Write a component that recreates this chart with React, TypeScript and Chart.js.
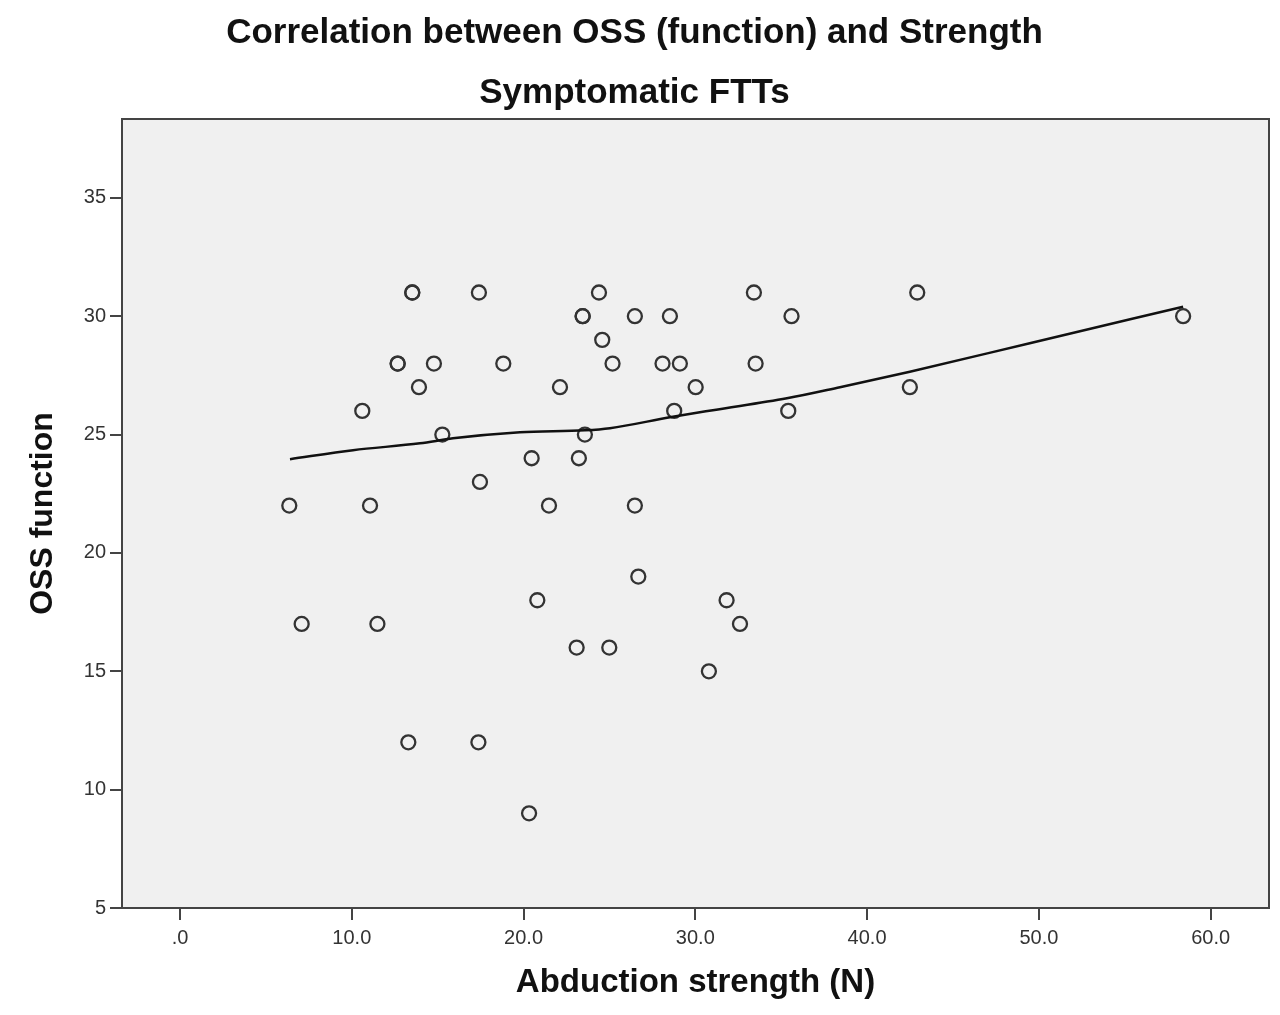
import React, { useEffect, useRef } from 'react';
import { Chart, registerables } from 'chart.js/auto';

Chart.register(...registerables);

// abduction strength (N) and OSS function score per patient
const strengthN = [
  6.36, 7.08, 10.61, 11.06, 11.49, 12.67, 12.67, 13.29, 13.52, 13.52,
  13.91, 14.78, 15.27, 17.4, 17.46, 17.37, 18.82, 20.32, 20.47, 20.8,
  21.48, 22.12, 23.22, 23.09, 23.44, 23.44, 23.57, 24.39, 24.58, 24.99,
  25.18, 26.48, 26.48, 26.68, 28.09, 28.52, 28.77, 29.1, 30.02, 30.79,
  31.82, 32.6, 33.41, 33.51, 35.41, 35.6, 42.49, 42.92, 58.4,
];
const ossFunction = [
  22, 17, 26, 22, 17, 28, 28, 12, 31, 31,
  27, 28, 25, 31, 23, 12, 28, 9, 24, 18,
  22, 27, 24, 16, 30, 30, 25, 31, 29, 16,
  28, 30, 22, 19, 28, 30, 26, 28, 27, 15,
  18, 17, 31, 28, 26, 30, 27, 31, 30,
];

// loess fit line
const fitStrength = [6.4, 10.07, 13.97, 15.89, 19.79, 23.57, 25.03, 28.52, 31.02, 35.33, 38.42, 42.49, 49.47, 58.4];
const fitOss = [23.96, 24.34, 24.63, 24.84, 25.1, 25.18, 25.27, 25.73, 26.03, 26.53, 27.0, 27.65, 28.86, 30.4];

const xTicks = [0, 10, 20, 30, 40, 50, 60];
const xTickLabels = ['.0', '10.0', '20.0', '30.0', '40.0', '50.0', '60.0'];
const yTicks = [5, 10, 15, 20, 25, 30, 35];

const FONT = "'Liberation Sans', Arial, sans-serif";

const plotFrame = {
  id: 'plotFrame',
  beforeDraw(chart: Chart) {
    const { ctx, chartArea: a } = chart;
    ctx.save();
    ctx.fillStyle = '#f0f0f0';
    ctx.fillRect(a.left, a.top, a.right - a.left, a.bottom - a.top);
    ctx.restore();
  },
  afterDraw(chart: Chart) {
    const { ctx, chartArea: a } = chart;
    ctx.save();
    ctx.strokeStyle = '#444';
    ctx.lineWidth = 2;
    ctx.strokeRect(a.left, a.top, a.right - a.left, a.bottom - a.top);
    ctx.restore();
  },
};

const OssStrengthChart: React.FC = () => {
  const chartRef = useRef<HTMLCanvasElement>(null);
  const chartInstanceRef = useRef<Chart | null>(null);

  useEffect(() => {
    if (!chartRef.current) return;
    chartInstanceRef.current?.destroy();

    const ctx = chartRef.current.getContext('2d');
    if (!ctx) return;

    const tickFont = { family: FONT, size: 20 };

    chartInstanceRef.current = new Chart(ctx, {
      type: 'scatter',
      data: {
        datasets: [
          {
            label: 'OSS function',
            data: strengthN.map((x, i) => ({ x, y: ossFunction[i] })),
            pointStyle: 'circle',
            pointRadius: 7,
            pointBorderWidth: 2.3,
            borderColor: '#333',
            backgroundColor: 'rgba(0,0,0,0)',
            order: 2,
          },
          {
            type: 'line',
            label: 'Fit',
            data: fitStrength.map((x, i) => ({ x, y: fitOss[i] })),
            borderColor: '#111',
            borderWidth: 2.5,
            pointRadius: 0,
            tension: 0.3,
            cubicInterpolationMode: 'monotone',
            fill: false,
            order: 1,
          },
        ],
      },
      options: {
        animation: false,
        responsive: true,
        maintainAspectRatio: false,
        layout: { padding: { left: 0, right: 11, top: 0, bottom: 0 } },
        scales: {
          x: {
            type: 'linear',
            min: -3.38,
            max: 63.4,
            afterBuildTicks: (scale: any) => {
              scale.ticks = xTicks.map(value => ({ value }));
            },
            afterFit: (scale: any) => {
              scale.height = 107;
            },
            ticks: {
              color: '#333',
              font: tickFont,
              padding: 6,
              maxRotation: 0,
              callback: (value: any) => {
                const i = xTicks.indexOf(Number(value));
                return i >= 0 ? xTickLabels[i] : '';
              },
            },
            grid: { drawOnChartArea: false, drawTicks: true, tickLength: 12, color: '#444', lineWidth: 2 },
            border: { display: false },
            title: {
              display: true,
              text: 'Abduction strength (N)',
              color: '#111',
              font: { family: FONT, size: 33, weight: 'bold' },
              padding: { top: 0, bottom: 12.2 },
            },
          },
          y: {
            type: 'linear',
            min: 5,
            max: 38.33,
            afterBuildTicks: (scale: any) => {
              scale.ticks = yTicks.map(value => ({ value }));
            },
            afterFit: (scale: any) => {
              scale.width = 122;
            },
            ticks: { color: '#333', font: tickFont, padding: 4 },
            grid: { drawOnChartArea: false, drawTicks: true, tickLength: 12, color: '#444', lineWidth: 2 },
            border: { display: false },
            title: {
              display: true,
              text: 'OSS function',
              color: '#111',
              font: { family: FONT, size: 32, weight: 'bold' },
              padding: { top: 23.8, bottom: 0 },
            },
          },
        },
        plugins: {
          legend: { display: false },
          tooltip: { enabled: false },
          title: {
            display: true,
            text: 'Correlation between OSS (function) and Strength',
            color: '#111',
            font: { family: FONT, size: 35, weight: 'bold' },
            padding: { top: 12, bottom: 18 },
          },
          subtitle: {
            display: true,
            text: 'Symptomatic FTTs',
            color: '#111',
            font: { family: FONT, size: 35, weight: 'bold' },
            padding: { top: 0, bottom: 5 },
          },
        },
      },
      plugins: [plotFrame],
    });

    return () => {
      chartInstanceRef.current?.destroy();
      chartInstanceRef.current = null;
    };
  }, []);

  return (
    <div style={{ position: 'absolute', left: 0, top: 0, width: 1280, height: 1015, background: '#fff' }}>
      <canvas ref={chartRef} aria-label="Correlation between OSS function and strength scatter chart" role="img"></canvas>
    </div>
  );
};

export default function App() {
  return <OssStrengthChart />;
}
